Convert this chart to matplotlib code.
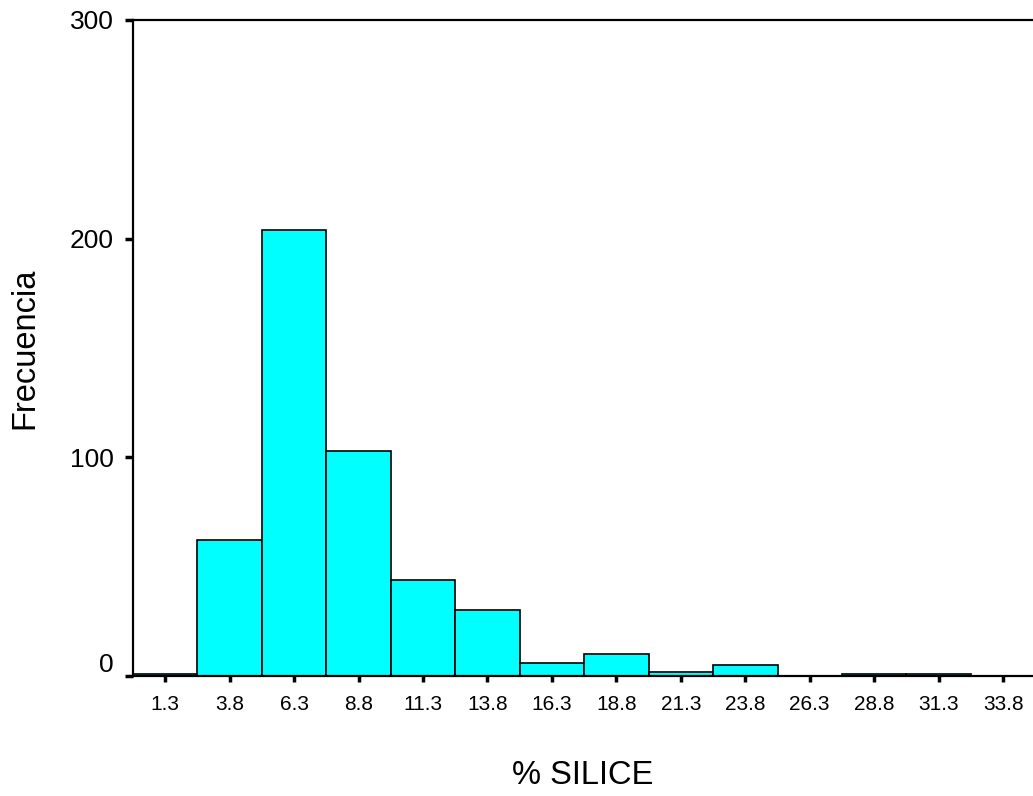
import numpy as np
import matplotlib
matplotlib.use("Agg")
import matplotlib.pyplot as plt
import matplotlib.transforms as mtransforms

# bin centres (% silice) and counts
bin_centers = [1.3, 3.8, 6.3, 8.8, 11.3, 13.8, 16.3, 18.8, 21.3, 23.8, 26.3, 28.8, 31.3, 33.8]
counts = [1, 62, 204, 103, 44, 30, 6, 10, 2, 5, 0, 1, 1, 0]
bin_width = 2.5
y_ticks = [0, 100, 200, 300]

plt.rcParams['font.family'] = ['Liberation Sans', 'DejaVu Sans']

fig = plt.figure(figsize=(10.33, 7.96), dpi=100)
ax = fig.add_axes([133 / 1033, 120 / 796, 900 / 1033, 656 / 796])

ax.bar(bin_centers, counts, width=bin_width, color='#00FFFF',
       edgecolor='black', linewidth=1.2, zorder=2)

ax.set_xlim(bin_centers[0] - bin_width / 2, bin_centers[0] - bin_width / 2 + 900 / 25.78)
ax.set_ylim(0, 300)

ax.set_xticks(bin_centers)
ax.set_xticklabels([f"{c:.1f}" for c in bin_centers], fontsize=15)
ax.set_yticks(y_ticks)
ax.set_yticklabels([str(t) for t in y_ticks], fontsize=19)

ax.tick_params(axis='x', length=4, width=2.5, pad=10, direction='out')
ax.tick_params(axis='y', length=6, width=2.5, pad=8, direction='out')

for side in ['left', 'top', 'bottom']:
    ax.spines[side].set_linewidth(1.6)
ax.spines['right'].set_visible(False)

# the "0" label sits a little above its tick, as in the original
zero_lbl = ax.get_yticklabels()[0]
zero_lbl.set_transform(zero_lbl.get_transform() +
                       mtransforms.ScaledTranslation(0, 13 / 100, fig.dpi_scale_trans))

ax.set_ylabel("Frecuencia", fontsize=23.5, va='center')
ax.yaxis.set_label_coords(-108 / 900, 0.5)
ax.set_xlabel("% SILICE", fontsize=23.5, va='center')
ax.xaxis.set_label_coords(0.5, -100 / 656)

fig.savefig("out.png", dpi=100)
